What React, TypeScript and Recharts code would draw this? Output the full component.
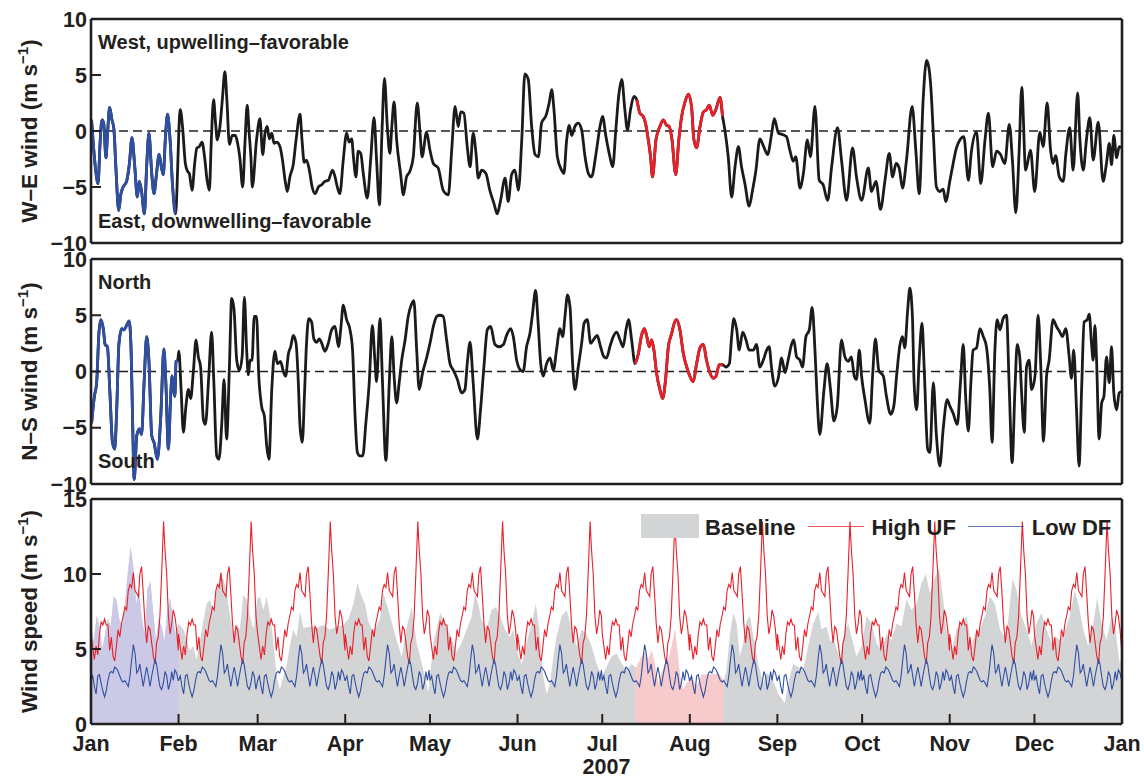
import React from 'react'
import { ComposedChart, Line, Area, XAxis, YAxis, ReferenceLine, Legend } from 'recharts'

// x axis: day of year 2007
const MONTH_START_DAYS = [0, 31, 59, 90, 120, 151, 181, 212, 243, 273, 304, 334, 365]
const MONTH_LABELS = ['Jan', 'Feb', 'Mar', 'Apr', 'May', 'Jun', 'Jul', 'Aug', 'Sep', 'Oct', 'Nov', 'Dec', 'Jan']
const YEAR_LABEL = '2007'
const WIND_TICKS = [-10, -5, 0, 5, 10]
const SPEED_TICKS = [0, 5, 10, 15]

// highlighted periods (day of year)
const LOW_DF_WINDOW: [number, number] = [0, 31]
const HIGH_UF_WINDOW: [number, number] = [192.6, 224]

// [day, m/s]
const weWind: [number, number][] = [
  [0.2, 1.0], [0.8, -1.1], [1.7, -3.6], [2.5, -4.7], [3.2, -1.1], [3.9, 1.0], [4.5, 0.7], [5.3, -2.4], [5.8, -0.5], [6.6, 2.1],
  [7.4, 1.0], [8.1, 0.2], [8.8, -3.2], [9.8, -7.1], [10.6, -5.6], [11.4, -5.0], [12.6, -4.5], [13.6, -2.9], [14.5, -0.6], [15.5, -3.2],
  [16.4, -5.9], [17.1, -4.5], [17.9, -5.4], [18.9, -7.4], [19.7, -3.2], [20.5, -0.2], [21.5, -3.8], [22.3, -5.6], [23.2, -3.8], [24.1, -2.1],
  [24.9, -3.2], [25.6, -3.9], [26.3, -0.8], [27.1, 1.5], [28.0, -0.8], [28.9, -5.0], [29.9, -7.4], [31.6, 1.9], [32.4, 0.4], [33.4, -2.9],
  [34.2, -3.6], [34.8, -3.8], [35.8, -5.3], [36.7, -2.9], [37.5, -1.5], [38.3, -1.4], [39.3, -1.0], [40.2, -2.3], [41.1, -4.4], [41.9, -5.3],
  [42.6, -0.8], [43.4, 2.8], [44.1, 0.7], [44.7, -0.8], [45.7, 0.5], [46.5, 2.8], [47.4, 5.3], [48.1, 2.8], [49.0, -1.2], [50.0, -0.4],
  [51.1, -0.4], [51.9, -1.1], [52.7, -2.4], [53.7, -5.0], [54.5, -1.1], [55.3, 2.3], [56.0, -0.2], [56.6, -2.3], [57.1, -5.0], [58.6, -0.8],
  [59.8, 1.1], [60.8, -2.1], [61.6, -0.2], [62.4, 0.4], [63.1, -0.7], [64.0, -0.2], [64.8, -1.1], [65.7, -1.0], [66.9, -1.4], [67.8, -2.6],
  [68.7, -4.4], [69.5, -5.4], [70.4, -4.1], [71.6, -3.0], [72.6, -0.8], [74.0, 1.5], [74.7, -0.8], [75.5, -2.8], [76.3, -2.6], [77.3, -3.5],
  [78.3, -5.0], [79.3, -5.6], [80.5, -5.0], [81.7, -4.8], [82.8, -4.5], [84.0, -4.4], [85.5, -3.5], [86.4, -4.1], [87.2, -5.0], [88.1, -5.6],
  [89.3, -2.6], [90.5, -0.2], [91.4, -1.0], [92.3, -0.7], [92.9, -2.3], [93.8, -4.1], [94.6, -1.8], [95.5, -2.0], [96.4, -3.8], [97.8, -6.0],
  [99.0, -2.6], [100.2, 1.2], [101.1, -2.6], [102.1, -6.6], [103.0, -0.2], [103.9, 4.7], [104.9, 0.4], [105.8, -2.0], [106.5, 0.4], [107.3, 2.6],
  [108.2, -0.8], [109.6, -3.8], [110.6, -5.7], [111.7, -4.1], [112.9, -3.6], [114.1, -2.3], [115.5, 2.5], [116.5, -0.2], [117.2, -2.3], [118.8, -0.1],
  [120.0, -1.7], [121.2, -2.9], [122.9, -3.3], [124.7, -5.3], [126.5, -5.7], [127.7, -1.7], [128.9, 2.2], [130.0, 0.4], [130.9, 1.7], [132.0, 1.6],
  [133.2, -1.4], [134.2, -3.2], [135.3, -0.2], [136.3, -2.0], [137.1, -4.2], [138.3, -3.5], [139.8, -3.8], [141.2, -5.3], [142.7, -6.5], [143.8, -7.4],
  [145.0, -6.2], [146.6, -4.2], [147.7, -6.3], [148.9, -3.9], [150.1, -3.5], [151.3, -5.3], [152.5, -0.8], [153.6, 5.1], [154.8, 4.6], [156.0, 0.4],
  [157.2, -2.1], [158.4, -2.3], [159.5, 0.7], [161.1, 1.4], [162.2, 2.5], [163.1, 3.7], [163.9, 1.9], [165.1, -2.3], [166.6, -3.5], [167.4, -3.8],
  [168.4, -0.8], [169.3, 0.5], [170.2, -0.4], [171.3, 0.4], [172.5, 0.7], [173.7, 0.1], [174.9, -2.3], [176.1, -3.8], [177.2, -4.1], [178.8, -2.0],
  [180.2, 0.4], [181.1, 1.3], [182.3, -0.5], [183.7, -2.3], [184.7, -3.2], [185.8, 0.1], [186.8, 3.1], [187.9, 4.6], [189.0, 1.9], [189.9, 0.1],
  [191.0, 1.9], [192.2, 3.1], [193.2, 2.8], [194.3, 1.6], [195.5, 1.3], [196.3, 0.7], [197.3, -0.8], [198.1, -2.3], [198.8, -4.1], [200.0, -0.8],
  [201.4, 0.4], [202.6, 1.0], [203.8, 0.5], [204.7, 0.4], [205.7, -0.8], [207.0, -3.9], [208.1, -0.8], [209.1, 1.3], [210.3, 2.6], [211.5, 3.3],
  [212.6, 2.2], [213.4, -0.7], [214.4, -1.5], [215.6, 0.4], [216.8, 1.7], [217.9, 1.9], [218.9, 2.3], [220.1, 1.4], [221.2, 1.9], [222.7, 3.0],
  [223.6, 1.3], [224.4, 0.1], [225.6, -2.3], [226.8, -5.9], [228.0, -3.2], [229.2, -1.4], [230.3, -3.2], [231.5, -4.7], [233.0, -6.7], [234.2, -5.3],
  [235.4, -3.5], [236.8, -0.7], [238.0, -1.3], [239.5, -2.1], [241.0, -0.2], [241.9, 1.1], [243.4, -0.2], [244.6, -0.3], [246.2, -0.5], [247.4, -1.7],
  [248.6, -2.7], [249.5, -2.3], [251.0, -5.1], [252.2, -3.8], [253.6, -0.8], [254.7, -2.3], [256.3, 2.2], [257.8, -4.4], [259.2, -4.8], [260.8, -6.2],
  [262.2, -3.2], [264.3, 0.3], [265.7, -2.6], [267.5, -6.2], [269.6, -1.5], [271.0, -4.1], [272.8, -6.2], [275.2, -3.3], [276.3, -5.4], [277.9, -4.5],
  [279.5, -7.0], [281.1, -4.4], [282.6, -2.0], [283.8, -4.1], [285.0, -2.9], [286.1, -3.3], [287.3, -5.1], [288.7, -2.6], [290.7, 2.2], [292.0, -1.7],
  [293.2, -5.6], [294.6, 2.8], [295.8, 6.3], [296.6, 5.7], [297.3, 4.0], [298.2, -0.2], [299.3, -5.0], [300.5, -5.4], [301.7, -5.2], [302.6, -6.3],
  [304.1, -4.4], [305.0, -3.2], [306.4, -1.5], [307.6, -0.8], [309.0, -0.5], [310.6, -4.4], [311.7, -1.8], [313.5, -0.1], [315.0, -4.7], [316.5, -0.8],
  [317.7, 1.6], [319.2, -3.2], [320.6, -1.8], [322.0, -2.1], [323.5, -2.9], [325.1, 0.6], [326.2, -2.6], [327.4, -7.3], [328.6, -1.7], [329.5, 3.9],
  [330.9, -3.5], [332.6, -1.7], [334.1, -5.4], [335.9, -0.1], [337.1, -1.4], [338.5, 2.5], [339.7, -1.7], [340.6, -2.9], [341.5, -2.2], [342.8, -4.1],
  [344.2, -4.5], [345.1, -2.1], [346.5, 0.3], [347.7, -3.5], [349.3, 3.4], [350.1, -0.8], [351.3, -3.5], [352.4, -0.8], [353.6, 1.2], [354.8, -2.6],
  [356.6, 0.8], [358.3, -4.5], [359.5, -2.9], [360.5, -1.1], [361.3, -3.0], [362.1, -0.4], [363.1, -2.4], [364.0, -1.4], [364.8, -1.5],
]

const nsWind: [number, number][] = [
  [0.2, -4.6], [1.2, -2.2], [2.0, -1.0], [2.8, 3.4], [3.5, 4.6], [4.4, 3.7], [5.0, 2.4], [5.8, 2.2], [6.7, -1.9], [7.6, -6.3],
  [8.4, -6.9], [9.1, -3.4], [9.9, 2.5], [10.9, 3.8], [11.7, 3.7], [12.6, 4.1], [13.5, 4.5], [14.2, 1.9], [14.7, -4.0], [15.3, -9.6],
  [16.2, -5.7], [17.1, -5.1], [17.9, -5.6], [18.8, -1.0], [19.7, 3.1], [20.5, 1.0], [21.5, -5.7], [22.3, -6.3], [23.5, -7.8], [24.7, -4.0],
  [25.8, 2.0], [26.5, -1.0], [27.4, -6.9], [28.2, -2.2], [28.7, -0.4], [29.1, -1.3], [29.7, -2.2], [30.1, 0.9], [30.7, 1.0], [31.1, 1.8],
  [31.9, -1.6], [32.7, -5.4], [33.6, -3.1], [34.5, -1.6], [35.3, -2.4], [36.2, -0.1], [37.2, 2.8], [38.0, 1.3], [38.8, 0.4], [39.8, -4.3],
  [40.5, -4.7], [41.7, -0.4], [42.7, 3.5], [43.5, -1.0], [44.5, -7.5], [45.3, -7.8], [46.3, -4.6], [47.1, -0.7], [48.0, -6.0], [49.0, 0.4],
  [49.8, 6.5], [50.6, 5.6], [51.6, 1.0], [52.5, 0.1], [53.5, 1.3], [54.3, 6.6], [55.1, 1.9], [55.7, -0.3], [56.3, 1.0], [57.0, 1.0],
  [57.8, 4.9], [58.6, 4.9], [59.4, -0.4], [60.4, -3.1], [61.4, -4.0], [62.2, -6.6], [63.0, -7.8], [64.0, -1.6], [65.1, 1.8], [66.0, 0.7],
  [67.1, 0.9], [68.1, 0.0], [68.9, -0.4], [69.9, 1.6], [70.7, 2.2], [71.6, 3.2], [72.6, 2.5], [73.4, -1.0], [74.0, -4.9], [74.8, -6.3],
  [75.6, -1.9], [76.3, 2.5], [77.1, 4.7], [78.1, 4.4], [78.9, 2.9], [79.9, 2.6], [80.8, 2.9], [81.7, 2.5], [82.8, 1.8], [84.0, 2.5],
  [85.2, 3.7], [86.4, 4.0], [87.6, 2.2], [88.5, 4.0], [89.3, 5.9], [90.5, 4.6], [91.7, 3.7], [92.6, 1.9], [93.5, -4.0], [94.3, -7.2],
  [95.2, -7.5], [96.2, -7.5], [97.3, -4.6], [98.5, -1.0], [99.6, 4.1], [100.5, 1.0], [101.1, -0.9], [102.3, 4.7], [103.2, -1.0], [104.4, -7.9],
  [105.6, -1.0], [106.5, 3.1], [107.3, -0.4], [108.2, -2.8], [109.1, -1.0], [110.0, 1.0], [111.2, 2.8], [112.3, 4.9], [113.5, 6.0], [114.3, 6.3],
  [115.3, 1.9], [116.2, -1.6], [117.4, -0.1], [118.8, 1.2], [120.0, 2.5], [121.2, 4.0], [122.4, 4.9], [123.5, 5.0], [124.7, 4.9], [125.9, 2.8],
  [127.1, 0.7], [128.3, 0.1], [129.7, -0.7], [131.2, -1.9], [132.4, -1.6], [133.2, 0.7], [134.2, 2.6], [135.3, -1.0], [136.8, -6.0], [137.9, -3.4],
  [139.1, 0.4], [140.3, 3.7], [141.5, 4.0], [143.0, 2.4], [144.5, 2.2], [146.0, 2.4], [147.1, 3.2], [148.6, 3.8], [149.5, 3.1], [150.7, 1.0],
  [152.1, 0.1], [153.0, 0.0], [154.2, 2.2], [155.4, 3.4], [156.3, 5.1], [157.4, 7.2], [158.3, 4.3], [159.2, 0.7], [160.1, -0.4], [161.3, 0.7],
  [162.5, 1.2], [163.7, 0.1], [164.8, 1.9], [166.0, 3.8], [167.0, 3.1], [167.8, 4.9], [168.7, 6.8], [169.6, 5.7], [170.5, 0.7], [171.3, -1.6],
  [172.5, 0.4], [173.7, 2.5], [174.6, 4.3], [175.7, 4.6], [176.9, 2.5], [178.1, 2.9], [179.2, 3.2], [180.4, 2.2], [181.6, 1.3], [182.5, 1.2],
  [183.7, 2.2], [184.9, 3.1], [186.1, 3.5], [187.3, 2.8], [188.4, 2.2], [189.4, 3.7], [190.3, 4.6], [191.4, 2.8], [192.6, 0.7], [193.8, 1.6],
  [194.9, 3.2], [195.9, 3.8], [196.7, 3.2], [197.6, 2.2], [198.5, 2.8], [199.3, 1.9], [200.2, -0.1], [201.4, -1.6], [202.4, -2.4], [203.3, -1.0],
  [204.4, 2.2], [205.6, 3.4], [206.5, 4.3], [207.3, 4.6], [208.5, 3.7], [209.7, 1.6], [210.9, 0.4], [212.0, -0.4], [213.2, -0.9], [214.4, 0.7],
  [215.6, 2.1], [216.8, 2.4], [217.9, 1.0], [219.1, -0.1], [220.3, -0.6], [221.3, -0.4], [222.4, 0.6], [223.6, 0.6], [224.8, 0.4], [226.0, 0.7],
  [226.8, 3.1], [227.6, 4.7], [228.6, 3.7], [229.5, 1.9], [230.7, 3.5], [231.9, 2.8], [233.0, 1.9], [234.5, 1.9], [235.6, 2.4], [236.8, 0.4],
  [238.0, 1.0], [239.2, 1.9], [240.1, 2.2], [240.9, 0.4], [242.1, -1.3], [243.3, -0.6], [244.5, 1.2], [245.7, -0.1], [246.8, 1.0], [248.0, 2.4],
  [248.8, 2.8], [249.8, 1.3], [251.0, 1.0], [251.9, 0.4], [253.1, 3.1], [254.3, 3.7], [255.3, 5.7], [256.3, 1.9], [257.1, -2.5], [258.0, -5.6],
  [259.5, -1.6], [260.6, 0.7], [261.8, -1.6], [263.0, -4.4], [264.2, -3.1], [265.7, 2.8], [266.9, 1.3], [268.1, 0.9], [269.2, 1.3], [270.2, -0.4],
  [271.0, -0.7], [272.0, 1.9], [272.8, -0.4], [274.0, -2.5], [275.7, -4.6], [276.7, -0.4], [277.7, 2.9], [278.9, 0.1], [280.5, -0.4], [281.6, -2.2],
  [283.1, -3.8], [284.2, -3.1], [285.2, -0.4], [286.4, 2.4], [287.3, 3.1], [288.1, 2.1], [289.1, 5.4], [289.9, 7.4], [290.8, 4.9], [291.4, -1.0],
  [292.3, -3.4], [293.2, 1.0], [294.2, 4.3], [295.0, 0.1], [296.2, -6.9], [297.0, -7.2], [298.2, -1.0], [299.3, -5.7], [300.5, -8.4], [301.7, -5.1],
  [303.1, -2.5], [304.1, -3.1], [305.2, -3.7], [306.7, -4.7], [307.8, -1.0], [308.8, 2.4], [309.7, -2.5], [310.6, -5.3], [311.5, -1.0], [312.3, 1.9],
  [313.5, 2.1], [314.7, 3.8], [315.9, 3.1], [317.0, 2.2], [318.2, -1.6], [319.0, -6.3], [320.0, 1.9], [320.8, 4.6], [321.8, 3.7], [322.9, 4.7],
  [324.1, 5.0], [325.1, -1.6], [326.1, -8.1], [327.1, -1.6], [327.9, 2.4], [328.8, 1.3], [329.4, -1.6], [330.4, -5.4], [331.2, 0.4], [332.1, 1.0],
  [333.0, -1.6], [334.2, -0.4], [335.3, 5.0], [336.3, 0.1], [337.2, -6.2], [338.3, -0.4], [339.2, 1.0], [340.6, 4.6], [341.8, 4.0], [343.0, 3.5],
  [343.9, 3.1], [345.1, 3.8], [346.3, 1.3], [347.1, -0.6], [347.9, 1.9], [348.9, -3.4], [349.8, -8.4], [350.7, -1.6], [351.6, 4.4], [352.7, 4.6],
  [353.4, 5.1], [354.2, 2.5], [354.8, 1.0], [355.4, 4.1], [356.0, 1.0], [356.9, -6.0], [357.8, -2.8], [358.6, -2.2], [359.5, 1.3], [360.5, -1.0],
  [361.3, 2.2], [362.1, -1.9], [363.1, -3.4], [364.0, -1.9], [364.8, -1.8],
]

// observed wind speed, m/s
const baselineSpeed: [number, number][] = [
  [0, 6.5], [1, 5.5], [2, 7.2], [3, 6.5], [4, 5.0], [5, 6.0], [6, 7.0], [7, 6.5], [8, 8.5], [9, 8.3],
  [10, 7.0], [11, 6.5], [12, 8.0], [13, 10.0], [14, 11.8], [15, 10.5], [16, 8.0], [17, 9.0], [18, 7.0], [19, 6.0],
  [20, 9.0], [21, 9.5], [22, 7.5], [23, 5.5], [24, 7.0], [25, 6.5], [26, 5.5], [27, 7.5], [28, 8.4], [29, 7.0],
  [30, 6.0], [31, 6.7], [32.7, 6.3], [33.9, 5.6], [35, 4.9], [36.2, 5.2], [37.4, 4.3], [38.6, 5.6], [39.8, 6.9], [40.9, 8.0],
  [42.1, 8.3], [43.3, 7.6], [44.5, 8.9], [45.7, 9.8], [46.8, 9.7], [48, 8.9], [49.2, 7.2], [50.4, 6.0], [51.6, 6.7], [52.7, 6.3],
  [53.9, 8.6], [55.1, 8.3], [56.3, 7.2], [57.5, 6.3], [58.9, 8.3], [59.8, 8.5], [61, 7.6], [62.2, 8.5], [63.4, 7.2], [64.5, 5.6],
  [65.7, 3.2], [66.9, 2.3], [68.1, 3.2], [69.3, 4.0], [70.4, 5.2], [71.6, 6.3], [72.8, 5.8], [74, 7.5], [75.2, 6.4], [77.5, 6.5],
  [79.9, 6.4], [82.2, 6.6], [84.6, 6.3], [87, 6.5], [89.3, 6.6], [91.1, 7.0], [92.9, 8.0], [94.3, 9.4], [95.8, 8.5], [97, 8.0],
  [98.2, 6.8], [99.8, 6.2], [101.2, 6.6], [102.3, 7.0], [103.5, 8.7], [105.3, 7.6], [108.2, 5.6], [110, 4.5], [111.8, 6.5], [113.5, 7.8],
  [115.3, 5.4], [117.7, 3.6], [119.4, 2.1], [121.2, 5.4], [123.6, 7.4], [125.9, 6.5], [128.3, 5.4], [129.4, 4.8], [131.2, 5.4], [133, 6.3],
  [134.8, 7.2], [135.9, 8.7], [137.1, 8.0], [138.3, 6.9], [140.1, 6.3], [141.8, 7.6], [143.4, 7.8], [144.8, 7.2], [146.6, 6.3], [148.3, 5.8],
  [149.5, 6.3], [150.7, 4.9], [152.5, 4.0], [154.2, 5.4], [156, 6.7], [157.5, 8.0], [158.7, 6.3], [160.1, 3.2], [161.3, 2.0], [162.5, 2.7],
  [163.7, 4.5], [164.8, 5.8], [166.6, 7.2], [168.4, 7.6], [170.2, 6.3], [171.9, 5.2], [173.7, 6.3], [175.5, 6.0], [177.2, 5.2], [179, 4.0],
  [180.8, 3.2], [182.5, 3.8], [184.3, 4.5], [186.1, 4.7], [187.9, 4.0], [189.6, 3.6], [191.4, 4.0], [192.6, 3.8], [193.2, 3.8], [194.9, 4.5],
  [196.1, 4.8], [197.3, 4.3], [198.5, 4.9], [199.6, 4.0], [200.8, 2.7], [202, 3.4], [203.2, 4.0], [204.4, 4.3], [205.6, 5.2], [206.7, 6.3],
  [207.6, 4.9], [208.5, 3.2], [209.7, 2.3], [210.9, 2.7], [212.6, 3.2], [214.4, 2.5], [216.2, 3.3], [218.5, 3.3], [220.3, 3.3], [222.1, 3.4],
  [224, 2.9], [225, 3.6], [226.2, 6.0], [227.4, 7.4], [228.6, 6.7], [229.7, 4.5], [230.9, 5.4], [232.1, 6.9], [233.3, 7.2], [234.5, 5.8],
  [236.2, 4.0], [238, 2.7], [239.3, 3.4], [241.5, 2.9], [243.3, 2.0], [245.6, 1.4], [247.4, 3.2], [248.6, 4.0], [250.4, 3.8], [252.1, 3.6],
  [253.9, 5.2], [255.7, 6.7], [257.5, 7.5], [258.6, 6.3], [260.4, 6.5], [261.6, 5.6], [263.4, 5.4], [265.1, 4.3], [266.9, 6.3], [268.1, 6.7],
  [269.8, 5.4], [271, 4.5], [272.8, 5.2], [274.6, 7.2], [276.3, 6.7], [278.1, 5.4], [279.9, 4.9], [281.6, 6.0], [283.4, 5.6], [285.2, 6.7],
  [286.9, 6.5], [288.7, 8.3], [290.5, 7.6], [292.3, 8.0], [294, 9.4], [295.6, 10.0], [297, 8.7], [298.4, 9.6], [300.3, 10.4], [301.7, 8.3],
  [303.1, 5.8], [304.7, 4.9], [306.4, 6.3], [308.2, 6.7], [310, 7.2], [311.7, 5.2], [312.9, 6.0], [314.7, 6.3], [316.5, 7.2], [318.2, 8.5],
  [320, 8.0], [321.8, 6.3], [323.5, 5.8], [324.7, 6.9], [326.2, 9.7], [327.7, 8.9], [329.4, 7.2], [331.2, 6.3], [333, 5.2], [334.7, 6.7],
  [336.5, 7.4], [338.3, 6.3], [340.1, 5.4], [341.8, 5.8], [343, 5.6], [344.8, 6.3], [346.5, 7.2], [348.3, 8.9], [349.8, 7.8], [351.3, 6.3],
  [353, 5.2], [354.8, 6.7], [356.2, 8.4], [357.8, 6.7], [359.5, 5.6], [361.3, 7.2], [362.5, 6.5], [364.2, 4.0], [365, 4.5],
]

// the two scenarios repeat the same one-month record in every calendar month
// [day of month, m/s]
const highUfMonth: [number, number][] = [
  [0, 6.0], [0.5, 5.3], [1.2, 4.3], [1.8, 5.2], [2.4, 4.6], [3.0, 6.0], [3.6, 6.8], [4.2, 6.6], [4.8, 7.0], [5.4, 6.6],
  [6.0, 6.6], [6.6, 4.9], [7.2, 5.8], [7.8, 4.5], [8.4, 4.2], [9.0, 5.2], [9.6, 6.3], [10.2, 5.8], [10.8, 6.7], [11.4, 7.2],
  [12.0, 7.8], [12.6, 7.6], [13.2, 8.9], [13.8, 9.3], [14.4, 9.1], [15.0, 10.1], [15.6, 8.9], [16.2, 8.7], [16.8, 8.5], [17.3, 10.0],
  [17.9, 10.5], [18.5, 8.7], [19.1, 6.7], [19.7, 5.4], [20.3, 6.5], [20.9, 6.3], [21.5, 5.4], [22.1, 4.5], [22.7, 4.0], [23.2, 5.4],
  [23.8, 5.8], [24.4, 7.2], [25.0, 10.0], [25.7, 13.5], [26.2, 11.6], [26.8, 10.0], [27.4, 7.2], [28.0, 6.0], [28.6, 6.7], [29.1, 7.6],
  [29.7, 7.2], [30.3, 6.3], [30.9, 4.9],
]

const lowDfMonth: [number, number][] = [
  [0, 2.9], [0.6, 3.2], [1.2, 2.5], [1.8, 2.0], [2.4, 3.2], [3.0, 3.3], [3.6, 2.7], [4.2, 2.2], [4.8, 1.8], [5.4, 2.2],
  [6.0, 2.9], [6.6, 3.4], [7.2, 3.5], [7.8, 3.4], [8.4, 3.8], [9.0, 3.7], [9.6, 3.5], [10.2, 3.2], [10.8, 2.9], [11.4, 2.8],
  [12.0, 2.9], [12.6, 2.7], [13.2, 2.5], [13.8, 3.2], [14.4, 4.3], [15.0, 5.3], [15.6, 4.7], [16.2, 3.4], [16.8, 3.6], [17.3, 4.0],
  [17.9, 3.2], [18.5, 2.5], [19.1, 3.2], [19.7, 3.8], [20.3, 3.2], [20.9, 2.5], [21.5, 3.2], [22.1, 3.8], [22.7, 4.3], [23.2, 4.0],
  [23.8, 3.2], [24.4, 2.5], [25.0, 2.3], [25.6, 2.7], [26.2, 3.5], [26.8, 3.2], [27.4, 2.3], [28.0, 2.7], [28.6, 3.5], [29.1, 2.9],
  [29.7, 3.6], [30.3, 3.4], [30.9, 2.9],
]

const INK = '#231f20'
const FONT = '"Liberation Sans", Arial, Helvetica, sans-serif'
const RED = '#e8202a'
const BLUE = '#2f4fa2'
const GRAY = '#d3d4d5'
const LAVENDER = '#cbc9e6'
const PINK = '#f7cbcc'

const SERIES_COLORS: Record<string, string> = { Baseline: GRAY, 'High UF': RED, 'Low DF': BLUE }

type Pt = { d: number; v: number }

const toPoints = (rows: [number, number][]): Pt[] => rows.map(([d, v]) => ({ d, v }))
const within = (pts: Pt[], [a, b]: [number, number]) => pts.filter((p) => p.d >= a && p.d <= b)
const everyMonth = (month: [number, number][]): Pt[] =>
  MONTH_START_DAYS.slice(0, 12).flatMap((start, i) => {
    const len = MONTH_START_DAYS[i + 1] - start
    return month.filter(([t]) => t < len).map(([t, v]) => ({ d: start + t, v }))
  })

const signed = (v: number) => (v < 0 ? '\u2212' + Math.abs(v) : String(v))
const monthName = (d: number) => MONTH_LABELS[MONTH_START_DAYS.indexOf(d)] ?? ''

const tickText = { fontSize: 21.5, fontWeight: 700, fill: INK, fontFamily: FONT }
const frameLine = { stroke: INK, strokeWidth: 2.6 }
const tickLine = { stroke: INK, strokeWidth: 2 }

const axisTitle = (title: string) => (props: any) => {
  const vb = props.viewBox ?? { y: 0, height: 0 }
  const cx = 37
  const cy = vb.y + vb.height / 2
  return (
    <text x={cx} y={cy} transform={`rotate(-90 ${cx} ${cy})`} textAnchor="middle"
      fontSize={22.5} fontWeight={700} fill={INK} fontFamily={FONT}>
      {title} (m s<tspan fontSize={15} dy={-9}>{'\u22121'}</tspan><tspan dy={9}>)</tspan>
    </text>
  )
}

// box frame: every side is an axis (1px thick) with inward ticks
function frameAxes(yDomain: [number, number], yTicks: number[], title: string, showMonths: boolean) {
  return [
    <XAxis key="xb" xAxisId="b" dataKey="d" type="number" domain={[0, 365]} ticks={MONTH_START_DAYS} interval={0}
      orientation="bottom" height={showMonths ? 54 : 1} tickSize={-10} tickMargin={22}
      tick={showMonths ? tickText : false} tickFormatter={monthName}
      axisLine={frameLine} tickLine={tickLine} allowDataOverflow
      label={showMonths ? { value: YEAR_LABEL, position: 'insideBottom', offset: 4, ...tickText } : undefined} />,
    <XAxis key="xt" xAxisId="t" dataKey="d" type="number" domain={[0, 365]} ticks={MONTH_START_DAYS} interval={0}
      orientation="top" height={1} tickSize={-10} tick={false} axisLine={frameLine} tickLine={tickLine} allowDataOverflow />,
    <YAxis key="yl" yAxisId="l" type="number" domain={yDomain} ticks={yTicks} interval={0} width={91}
      tickSize={-10} tickMargin={14} tick={tickText} tickFormatter={signed}
      axisLine={frameLine} tickLine={tickLine} allowDataOverflow label={axisTitle(title)} />,
    <YAxis key="yr" yAxisId="r" orientation="right" type="number" domain={yDomain} ticks={yTicks} interval={0} width={1}
      tickSize={-10} tick={false} axisLine={frameLine} tickLine={tickLine} allowDataOverflow />,
  ]
}

function WindPanel({ rows, title, height, marginTop, marginBottom }: {
  rows: [number, number][]; title: string; height: number; marginTop: number; marginBottom: number
}) {
  const pts = toPoints(rows)
  const line = { xAxisId: 'b', yAxisId: 'l', dataKey: 'v', type: 'monotone' as const, strokeWidth: 2.8, dot: false, isAnimationActive: false, strokeLinejoin: 'round' as const }
  return (
    <ComposedChart width={1144} height={height} margin={{ top: marginTop, right: 21, bottom: marginBottom, left: 0 }}>
      <ReferenceLine xAxisId="b" yAxisId="l" y={0} stroke={INK} strokeWidth={1.3} strokeDasharray="9 5" />
      <Line {...line} data={pts} stroke="#1b1b1b" />
      <Line {...line} data={within(pts, LOW_DF_WINDOW)} stroke={BLUE} />
      <Line {...line} data={within(pts, HIGH_UF_WINDOW)} stroke={RED} />
      {frameAxes([-10, 10], WIND_TICKS, title, false)}
    </ComposedChart>
  )
}

const renderLegend = (props: any) => {
  const seen = new Set<string>()
  const items = ((props.payload ?? []) as any[]).filter((it) => {
    const name = String(it.value)
    if (!(name in SERIES_COLORS) || seen.has(name)) return false
    seen.add(name)
    return true
  })
  return (
    <div style={{ display: 'flex', alignItems: 'center', height: 24, fontFamily: FONT, fontSize: 22, fontWeight: 700, color: INK, whiteSpace: 'nowrap' }}>
      {items.map((it) => {
        const name = String(it.value)
        return (
          <div key={name} style={{ display: 'flex', alignItems: 'center', marginRight: 12 }}>
            {name === 'Baseline'
              ? <div style={{ width: 58, height: 24, background: GRAY, marginRight: 6 }} />
              : <div style={{ width: 56, height: 0, borderTop: `1.4px solid ${SERIES_COLORS[name]}`, opacity: 0.75, marginRight: 8 }} />}
            <span style={{ paddingTop: 3 }}>{name}</span>
          </div>
        )
      })}
    </div>
  )
}

function SpeedPanel() {
  const base = toPoints(baselineSpeed)
  const area = { xAxisId: 'b', yAxisId: 'l', dataKey: 'v', type: 'linear' as const, stroke: 'none', fillOpacity: 1, dot: false, activeDot: false, isAnimationActive: false }
  const line = { xAxisId: 'b', yAxisId: 'l', dataKey: 'v', type: 'linear' as const, strokeWidth: 1.1, dot: false, isAnimationActive: false }
  return (
    <ComposedChart width={1144} height={288} margin={{ top: 8, right: 21, bottom: 0, left: 0 }}>
      <Area {...area} data={base} fill={GRAY} name="Baseline" legendType="rect" />
      <Area {...area} data={within(base, LOW_DF_WINDOW)} fill={LAVENDER} legendType="none" />
      <Area {...area} data={within(base, HIGH_UF_WINDOW)} fill={PINK} legendType="none" />
      <Line {...line} data={everyMonth(highUfMonth)} stroke={RED} name="High UF" />
      <Line {...line} data={everyMonth(lowDfMonth)} stroke={BLUE} name="Low DF" />
      <Legend content={renderLegend} layout="horizontal" verticalAlign="middle" align="center"
        wrapperStyle={{ left: 641, top: 24, width: 480 }} />
      {frameAxes([0, 15], SPEED_TICKS, 'Wind speed', true)}
    </ComposedChart>
  )
}

const noteStyle = { fontSize: 20, fontWeight: 700, fill: INK, fontFamily: FONT }

export default function App() {
  return (
    <div style={{ position: 'absolute', left: 0, top: 0, width: 1144, height: 778, background: '#fff' }}>
      <style>{'.recharts-surface{overflow:visible}'}</style>
      <div style={{ position: 'absolute', left: 0, top: 0 }}>
        <WindPanel rows={weWind} title={'W\u2013E wind'} height={250} marginTop={18} marginBottom={6} />
      </div>
      <div style={{ position: 'absolute', left: 0, top: 250 }}>
        <WindPanel rows={nsWind} title={'N\u2013S wind'} height={240} marginTop={8} marginBottom={5} />
      </div>
      <div style={{ position: 'absolute', left: 0, top: 490 }}>
        <SpeedPanel />
      </div>
      <svg width={1144} height={778} style={{ position: 'absolute', left: 0, top: 0, pointerEvents: 'none' }}>
        <text x={98} y={49} {...noteStyle}>West, upwelling{'\u2013'}favorable</text>
        <text x={98} y={228} {...noteStyle}>East, downwelling{'\u2013'}favorable</text>
        <text x={98} y={289} {...noteStyle}>North</text>
        <text x={98} y={468} {...noteStyle}>South</text>
      </svg>
    </div>
  )
}
